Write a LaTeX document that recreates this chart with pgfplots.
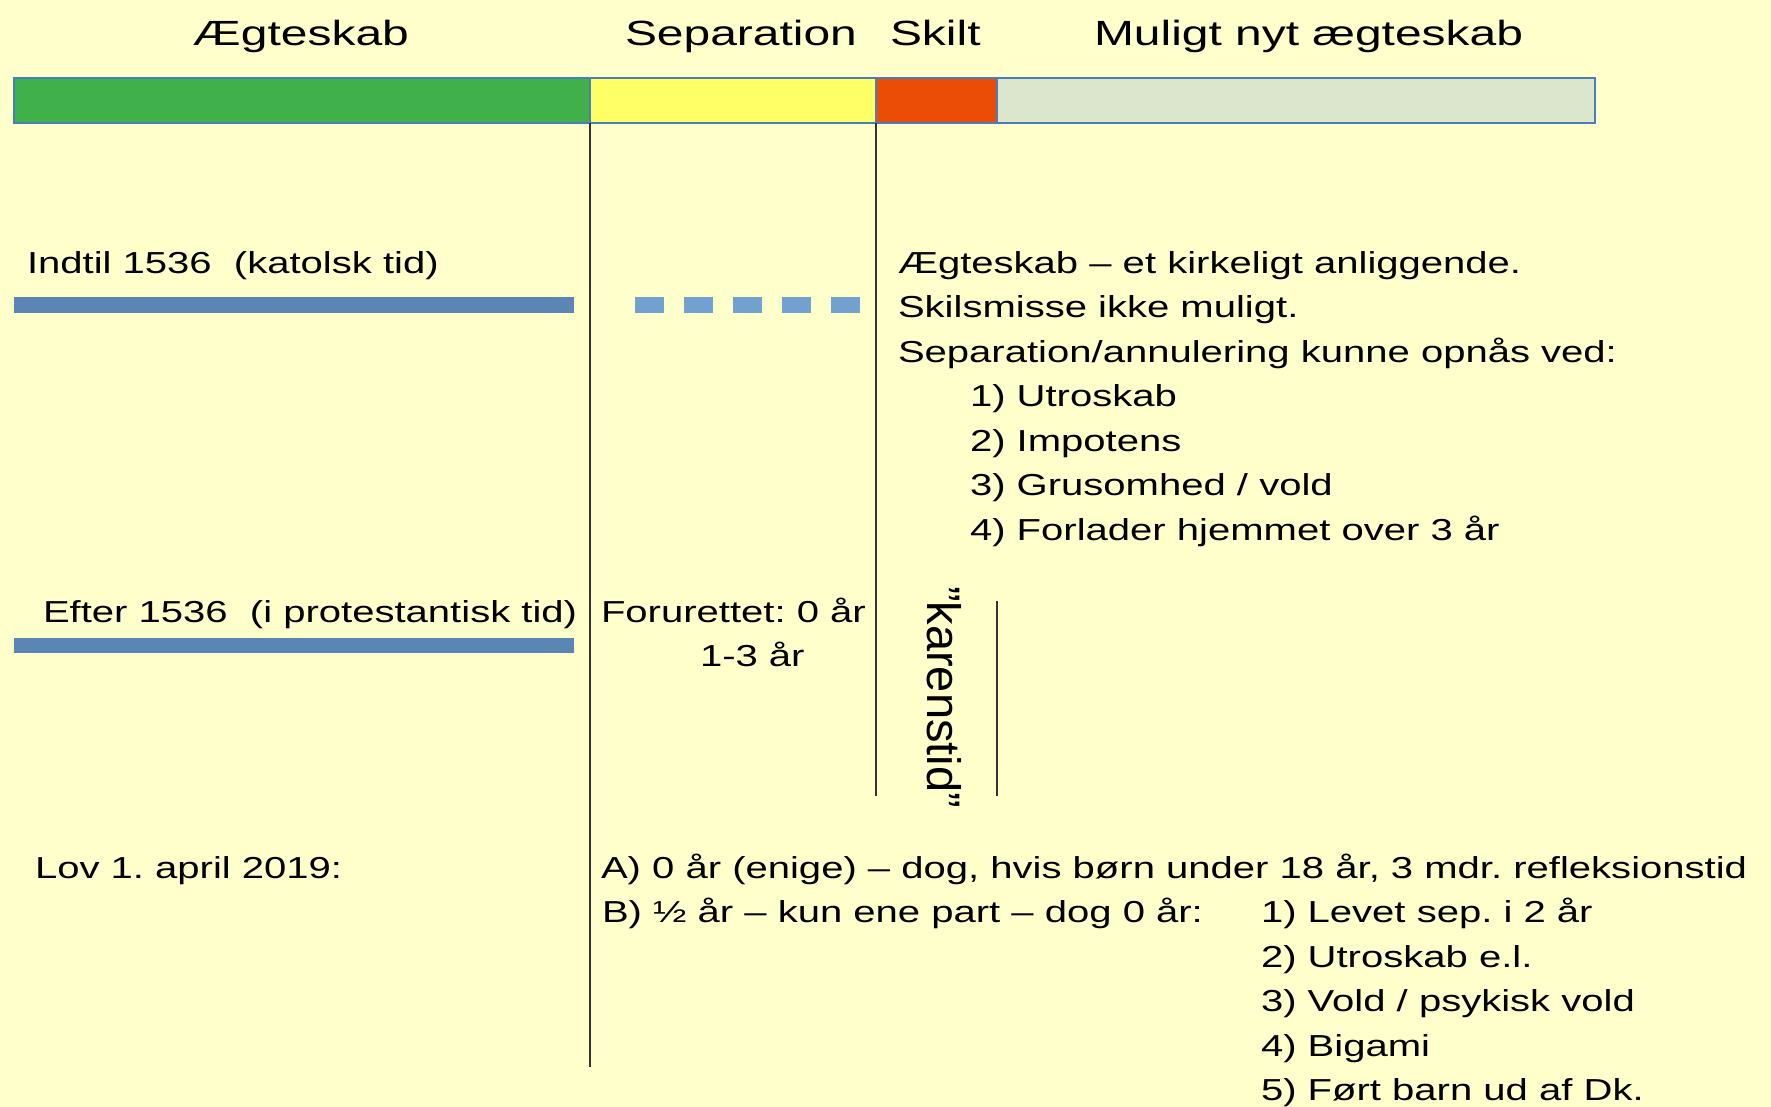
\documentclass[border=0pt]{standalone}
\usepackage{fontspec}
\setmainfont{Liberation Sans}
\usepackage{pgfplots}
\pgfplotsset{compat=1.18}
\frenchspacing
\definecolor{bg}{HTML}{FFFFCC}
\definecolor{cgreen}{HTML}{40B04A}
\definecolor{cyellow}{HTML}{FFFF66}
\definecolor{cred}{HTML}{EC4D06}
\definecolor{cgrey}{HTML}{DCE6CA}
\definecolor{cborder}{HTML}{4A7EBB}
\definecolor{cbar}{HTML}{5B85B2}
\definecolor{cdash}{HTML}{72A0D0}
\definecolor{vline}{HTML}{333333}
\newcommand{\T}[1]{\scalebox{1.32}[1]{#1}}
\newcommand{\TT}[1]{\scalebox{1.37}[1]{#1}}
\tikzset{L/.style={inner sep=0pt, outer sep=0pt, anchor=base west, text=black, font=\fontsize{9.1}{10}\selectfont},
         H/.style={inner sep=0pt, outer sep=0pt, anchor=base west, text=black, font=\fontsize{10.5}{12}\selectfont}}
\begin{document}
\begin{tikzpicture}
\begin{axis}[
  scale only axis, width=531.3pt, height=332.1pt,
  xmin=0, xmax=1771, ymin=0, ymax=1107, y dir=reverse,
  hide axis, clip=true,
]
\fill[bg] (rel axis cs:0,0) rectangle (rel axis cs:1,1);
% top bar
\addplot[draw=cborder, line width=0.6pt, fill=cgreen] coordinates {(14,78) (590,78) (590,123) (14,123)} -- cycle;
\addplot[draw=cborder, line width=0.6pt, fill=cyellow] coordinates {(590,78) (876,78) (876,123) (590,123)} -- cycle;
\addplot[draw=cborder, line width=0.6pt, fill=cred] coordinates {(876,78) (997,78) (997,123) (876,123)} -- cycle;
\addplot[draw=cborder, line width=0.6pt, fill=cgrey] coordinates {(997,78) (1595,78) (1595,123) (997,123)} -- cycle;
% vertical lines
\addplot[draw=vline, line width=0.45pt] coordinates {(590,123) (590,1067)};
\addplot[draw=vline, line width=0.45pt] coordinates {(876,123) (876,796)};
\addplot[draw=vline, line width=0.45pt] coordinates {(997,601) (997,796)};
% blue bars
\addplot[draw=none, fill=cbar] coordinates {(14,297) (574,297) (574,313) (14,313)} -- cycle;
\addplot[draw=none, fill=cbar] coordinates {(14,638) (574,638) (574,653) (14,653)} -- cycle;
\addplot[draw=cdash, line width=4.7pt, line cap=butt, dash pattern=on 8.7pt off 6pt] coordinates {(635,305) (861,305)};
% titles
\node[H] at (193,45) {\TT{Ægteskab}};
\node[H] at (625,45) {\TT{Separation}};
\node[H] at (890,45) {\TT{Skilt}};
\node[H] at (1094,45) {\TT{Muligt nyt ægteskab}};
% row 1
\node[L] at (27,273) {\T{Indtil 1536\ \ (katolsk tid)}};
\node[L] at (898,273) {\T{Ægteskab – et kirkeligt anliggende.}};
\node[L] at (898,317.5) {\T{Skilsmisse ikke muligt.}};
\node[L] at (898,362) {\T{Separation/annulering kunne opnås ved:}};
\node[L] at (970,406.5) {\T{1) Utroskab}};
\node[L] at (970,451) {\T{2) Impotens}};
\node[L] at (970,495.5) {\T{3) Grusomhed / vold}};
\node[L] at (970,540) {\T{4) Forlader hjemmet over 3 år}};
% row 2
\node[L] at (43,622) {\T{Efter 1536\ \ (i protestantisk tid)}};
\node[L] at (601,622) {\T{Forurettet: 0 år}};
\node[L] at (700,666) {\T{1-3 år}};
\node[inner sep=0pt, anchor=center, rotate=-90, font=\fontsize{14.1}{16}\selectfont] at (944,697) {”karenstid”};
% row 3
\node[L] at (35,878) {\T{Lov 1. april 2019:}};
\node[L] at (601,878) {\T{A) 0 år (enige) – dog, hvis børn under 18 år, 3 mdr. refleksionstid}};
\node[L] at (602,922.5) {\T{B) ½ år – kun ene part – dog 0 år:}};
\node[L] at (1261,922.5) {\T{1) Levet sep. i 2 år}};
\node[L] at (1261,967) {\T{2) Utroskab e.l.}};
\node[L] at (1261,1011.5) {\T{3) Vold / psykisk vold}};
\node[L] at (1261,1056) {\T{4) Bigami}};
\node[L] at (1261,1100.5) {\T{5) Ført barn ud af Dk.}};
\end{axis}
\pgfresetboundingbox
\path (current axis.south west) rectangle (current axis.north east);
\end{tikzpicture}
\end{document}
